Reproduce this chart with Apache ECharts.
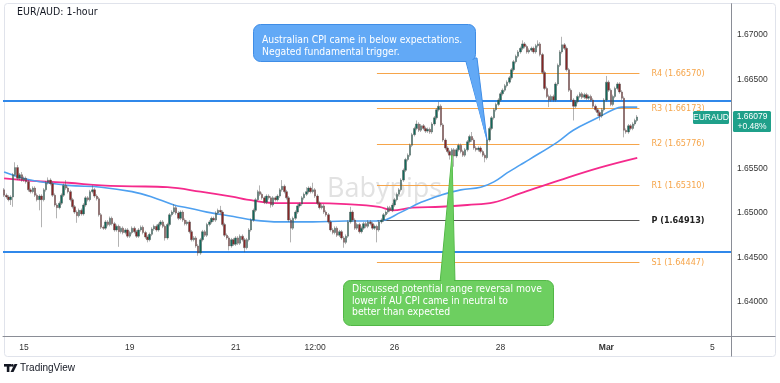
<!DOCTYPE html>
<html><head><meta charset="utf-8">
<script src="https://cdn.jsdelivr.net/npm/echarts/dist/echarts.min.js"></script>
<style>html,body{margin:0;padding:0;background:#fff}#c{width:780px;height:383px}</style>
</head><body><div id="c"></div>
<script>
// ---------- DATA ----------
const tradingDays = ['Feb 14','Feb 15','Feb 16','Feb 19','Feb 20','Feb 21','Feb 22','Feb 23','Feb 26','Feb 27','Feb 28','Feb 29','Mar 1','Mar 4','Mar 5'];
const firstHour = 15;        // first bar: Feb 14 15:00
const totalSlots = 330;      // visible hourly slots (incl. empty right margin)

const xTickLabels = {
  'Feb 15 00:00':'15','Feb 19 00:00':'19','Feb 21 00:00':'21','Feb 22 12:00':'12:00',
  'Feb 26 00:00':'26','Feb 28 00:00':'28','Mar 1 00:00':'Mar','Mar 5 00:00':'5'
};
const yTickValues = [1.64, 1.645, 1.65, 1.655, 1.66, 1.665, 1.67];

// [open, close, low, high]
const ohlc = [
[1.6526,1.6520,1.6518,1.6528],[1.6520,1.6518,1.6516,1.6522],[1.6518,1.6515,1.6513,1.6520],[1.6515,1.6518,1.6509,1.6520],
[1.6518,1.6543,1.6507,1.6545],[1.6543,1.6551,1.6541,1.6557],[1.6551,1.6539,1.6537,1.6554],[1.6539,1.6543,1.6537,1.6545],
[1.6543,1.6537,1.6535,1.6546],[1.6537,1.6539,1.6535,1.6541],[1.6539,1.6535,1.6533,1.6541],[1.6535,1.6526,1.6524,1.6537],
[1.6526,1.6524,1.6522,1.6528],[1.6524,1.6528,1.6522,1.6530],[1.6528,1.6520,1.6518,1.6530],[1.6520,1.6515,1.6513,1.6522],
[1.6515,1.6519,1.6503,1.6521],[1.6519,1.6515,1.6484,1.6521],[1.6515,1.6526,1.6513,1.6528],[1.6526,1.6534,1.6524,1.6536],
[1.6534,1.6537,1.6532,1.6540],[1.6537,1.6533,1.6531,1.6539],[1.6533,1.6520,1.6518,1.6535],[1.6520,1.6509,1.6507,1.6522],
[1.6509,1.6506,1.6494,1.6511],[1.6506,1.6511,1.6504,1.6513],[1.6511,1.6520,1.6509,1.6522],[1.6520,1.6531,1.6518,1.6533],
[1.6531,1.6528,1.6526,1.6537],[1.6528,1.6524,1.6522,1.6530],[1.6524,1.6515,1.6513,1.6526],[1.6515,1.6507,1.6505,1.6517],
[1.6507,1.6501,1.6499,1.6509],[1.6501,1.6497,1.6489,1.6503],[1.6497,1.6503,1.6495,1.6505],[1.6503,1.6499,1.6497,1.6505],
[1.6499,1.6509,1.6497,1.6511],[1.6509,1.6517,1.6507,1.6519],[1.6517,1.6515,1.6513,1.6519],[1.6515,1.6524,1.6513,1.6526],
[1.6524,1.6526,1.6522,1.6531],[1.6526,1.6519,1.6517,1.6528],[1.6519,1.6516,1.6514,1.6521],[1.6516,1.6498,1.6496,1.6518],
[1.6498,1.6484,1.6482,1.6500],[1.6484,1.6483,1.6481,1.6486],[1.6483,1.6490,1.6481,1.6492],[1.6490,1.6487,1.6485,1.6492],
[1.6487,1.6494,1.6485,1.6496],[1.6494,1.6488,1.6486,1.6496],[1.6488,1.6481,1.6479,1.6490],[1.6481,1.6485,1.6479,1.6487],
[1.6485,1.6479,1.6462,1.6487],[1.6479,1.6483,1.6477,1.6485],[1.6483,1.6478,1.6476,1.6485],[1.6478,1.6481,1.6476,1.6483],
[1.6481,1.6474,1.6472,1.6483],[1.6474,1.6478,1.6472,1.6480],[1.6478,1.6483,1.6476,1.6485],[1.6483,1.6479,1.6477,1.6485],
[1.6479,1.6474,1.6472,1.6481],[1.6474,1.6481,1.6472,1.6483],[1.6481,1.6484,1.6479,1.6486],[1.6484,1.6478,1.6476,1.6486],
[1.6478,1.6473,1.6471,1.6480],[1.6473,1.6470,1.6467,1.6475],[1.6470,1.6476,1.6468,1.6478],[1.6476,1.6482,1.6474,1.6484],
[1.6482,1.6485,1.6480,1.6487],[1.6485,1.6481,1.6479,1.6487],[1.6481,1.6487,1.6479,1.6489],[1.6487,1.6490,1.6485,1.6492],
[1.6490,1.6485,1.6483,1.6492],[1.6485,1.6472,1.6469,1.6487],[1.6472,1.6487,1.6470,1.6489],[1.6487,1.6498,1.6485,1.6500],
[1.6498,1.6501,1.6496,1.6503],[1.6501,1.6506,1.6499,1.6510],[1.6506,1.6500,1.6498,1.6508],[1.6500,1.6494,1.6492,1.6502],
[1.6494,1.6501,1.6492,1.6503],[1.6501,1.6492,1.6490,1.6503],[1.6492,1.6488,1.6486,1.6494],[1.6488,1.6490,1.6486,1.6492],
[1.6490,1.6479,1.6477,1.6492],[1.6479,1.6470,1.6468,1.6481],[1.6470,1.6472,1.6468,1.6474],[1.6472,1.6463,1.6461,1.6474],
[1.6463,1.6455,1.6452,1.6465],[1.6455,1.6470,1.6453,1.6472],[1.6470,1.6479,1.6468,1.6481],[1.6479,1.6475,1.6473,1.6481],
[1.6475,1.6487,1.6473,1.6489],[1.6487,1.6490,1.6485,1.6492],[1.6490,1.6494,1.6488,1.6496],[1.6494,1.6492,1.6490,1.6496],
[1.6492,1.6500,1.6490,1.6502],[1.6500,1.6503,1.6498,1.6505],[1.6503,1.6501,1.6499,1.6508],[1.6501,1.6487,1.6485,1.6503],
[1.6487,1.6475,1.6473,1.6489],[1.6475,1.6472,1.6470,1.6477],[1.6472,1.6463,1.6458,1.6474],[1.6463,1.6470,1.6461,1.6472],
[1.6470,1.6465,1.6463,1.6472],[1.6465,1.6472,1.6463,1.6474],[1.6472,1.6466,1.6464,1.6474],[1.6466,1.6474,1.6464,1.6476],
[1.6474,1.6470,1.6468,1.6476],[1.6470,1.6461,1.6456,1.6472],[1.6461,1.6470,1.6459,1.6472],[1.6470,1.6481,1.6468,1.6483],
[1.6481,1.6492,1.6479,1.6494],[1.6492,1.6503,1.6490,1.6505],[1.6503,1.6515,1.6501,1.6517],[1.6515,1.6524,1.6513,1.6526],
[1.6524,1.6521,1.6519,1.6531],[1.6521,1.6517,1.6515,1.6523],[1.6517,1.6512,1.6510,1.6519],[1.6512,1.6519,1.6510,1.6521],
[1.6519,1.6517,1.6515,1.6521],[1.6517,1.6509,1.6506,1.6519],[1.6509,1.6517,1.6507,1.6519],[1.6517,1.6515,1.6513,1.6519],
[1.6515,1.6519,1.6513,1.6521],[1.6519,1.6526,1.6517,1.6528],[1.6526,1.6530,1.6524,1.6537],[1.6530,1.6524,1.6522,1.6532],
[1.6524,1.6517,1.6515,1.6526],[1.6517,1.6492,1.6490,1.6519],[1.6492,1.6483,1.6467,1.6494],[1.6483,1.6494,1.6481,1.6496],
[1.6494,1.6501,1.6492,1.6503],[1.6501,1.6508,1.6499,1.6510],[1.6508,1.6510,1.6506,1.6512],[1.6510,1.6517,1.6508,1.6519],
[1.6517,1.6521,1.6515,1.6523],[1.6521,1.6524,1.6519,1.6529],[1.6524,1.6528,1.6522,1.6530],[1.6528,1.6524,1.6522,1.6530],
[1.6524,1.6526,1.6522,1.6534],[1.6526,1.6519,1.6517,1.6528],[1.6519,1.6511,1.6509,1.6521],[1.6511,1.6506,1.6504,1.6513],
[1.6506,1.6508,1.6504,1.6510],[1.6508,1.6501,1.6499,1.6510],[1.6501,1.6498,1.6496,1.6503],[1.6498,1.6490,1.6488,1.6500],
[1.6490,1.6481,1.6479,1.6492],[1.6481,1.6478,1.6476,1.6483],[1.6478,1.6483,1.6476,1.6485],[1.6483,1.6475,1.6473,1.6485],
[1.6475,1.6479,1.6473,1.6481],[1.6479,1.6472,1.6470,1.6481],[1.6472,1.6467,1.6461,1.6474],[1.6467,1.6474,1.6465,1.6476],
[1.6474,1.6490,1.6472,1.6492],[1.6490,1.6501,1.6488,1.6507],[1.6501,1.6492,1.6490,1.6503],[1.6492,1.6483,1.6481,1.6494],
[1.6483,1.6487,1.6481,1.6489],[1.6487,1.6479,1.6477,1.6489],[1.6479,1.6483,1.6477,1.6485],[1.6483,1.6488,1.6481,1.6490],
[1.6488,1.6485,1.6483,1.6490],[1.6485,1.6490,1.6483,1.6492],[1.6490,1.6488,1.6486,1.6492],[1.6488,1.6483,1.6481,1.6490],
[1.6483,1.6485,1.6481,1.6487],[1.6485,1.6481,1.6467,1.6487],[1.6481,1.6490,1.6479,1.6492],[1.6490,1.6492,1.6488,1.6494],
[1.6492,1.6498,1.6490,1.6500],[1.6498,1.6501,1.6496,1.6503],[1.6501,1.6506,1.6499,1.6508],[1.6506,1.6503,1.6501,1.6508],
[1.6503,1.6509,1.6501,1.6511],[1.6509,1.6515,1.6507,1.6517],[1.6515,1.6521,1.6513,1.6523],[1.6521,1.6526,1.6519,1.6528],
[1.6526,1.6537,1.6524,1.6539],[1.6537,1.6548,1.6535,1.6550],[1.6548,1.6560,1.6546,1.6562],[1.6560,1.6565,1.6558,1.6567],
[1.6565,1.6576,1.6563,1.6578],[1.6576,1.6588,1.6574,1.6590],[1.6588,1.6595,1.6586,1.6597],[1.6595,1.6600,1.6593,1.6604],
[1.6600,1.6593,1.6591,1.6602],[1.6593,1.6598,1.6591,1.6600],[1.6598,1.6595,1.6593,1.6600],[1.6595,1.6592,1.6590,1.6597],
[1.6592,1.6594,1.6590,1.6596],[1.6594,1.6591,1.6589,1.6596],[1.6591,1.6600,1.6589,1.6602],[1.6600,1.6607,1.6598,1.6609],
[1.6607,1.6616,1.6605,1.6618],[1.6616,1.6620,1.6614,1.6625],[1.6620,1.6599,1.6597,1.6622],[1.6599,1.6582,1.6580,1.6601],
[1.6582,1.6573,1.6571,1.6584],[1.6573,1.6569,1.6567,1.6575],[1.6569,1.6565,1.6560,1.6571],[1.6565,1.6571,1.6563,1.6573],
[1.6571,1.6564,1.6552,1.6573],[1.6564,1.6571,1.6562,1.6573],[1.6571,1.6576,1.6569,1.6578],[1.6576,1.6569,1.6567,1.6578],
[1.6569,1.6565,1.6563,1.6571],[1.6565,1.6571,1.6563,1.6573],[1.6571,1.6580,1.6569,1.6582],[1.6580,1.6586,1.6578,1.6588],
[1.6586,1.6582,1.6580,1.6591],[1.6582,1.6573,1.6571,1.6584],[1.6573,1.6571,1.6569,1.6575],[1.6571,1.6573,1.6569,1.6575],
[1.6573,1.6569,1.6567,1.6575],[1.6569,1.6565,1.6563,1.6571],[1.6565,1.6562,1.6557,1.6567],[1.6562,1.6582,1.6560,1.6584],
[1.6582,1.6595,1.6580,1.6597],[1.6595,1.6607,1.6593,1.6609],[1.6607,1.6616,1.6605,1.6618],[1.6616,1.6622,1.6614,1.6624],
[1.6622,1.6627,1.6620,1.6629],[1.6627,1.6634,1.6625,1.6636],[1.6634,1.6638,1.6632,1.6640],[1.6638,1.6643,1.6636,1.6645],
[1.6643,1.6647,1.6641,1.6649],[1.6647,1.6652,1.6645,1.6654],[1.6652,1.6661,1.6650,1.6663],[1.6661,1.6670,1.6659,1.6672],
[1.6670,1.6676,1.6668,1.6678],[1.6676,1.6681,1.6674,1.6683],[1.6681,1.6685,1.6679,1.6687],[1.6685,1.6690,1.6683,1.6694],
[1.6690,1.6687,1.6685,1.6692],[1.6687,1.6681,1.6679,1.6689],[1.6681,1.6683,1.6679,1.6685],[1.6683,1.6685,1.6681,1.6687],
[1.6685,1.6681,1.6679,1.6687],[1.6681,1.6688,1.6679,1.6690],[1.6688,1.6690,1.6686,1.6694],[1.6690,1.6678,1.6676,1.6692],
[1.6678,1.6658,1.6656,1.6680],[1.6658,1.6640,1.6638,1.6660],[1.6640,1.6631,1.6629,1.6642],[1.6631,1.6627,1.6619,1.6633],
[1.6627,1.6631,1.6625,1.6633],[1.6631,1.6627,1.6625,1.6633],[1.6627,1.6645,1.6625,1.6647],[1.6645,1.6666,1.6643,1.6668],
[1.6666,1.6681,1.6664,1.6683],[1.6681,1.6689,1.6679,1.6698],[1.6689,1.6685,1.6683,1.6691],[1.6685,1.6661,1.6659,1.6687],
[1.6661,1.6638,1.6636,1.6663],[1.6638,1.6627,1.6625,1.6640],[1.6627,1.6620,1.6604,1.6629],[1.6620,1.6625,1.6618,1.6627],
[1.6625,1.6631,1.6623,1.6633],[1.6631,1.6634,1.6629,1.6636],[1.6634,1.6630,1.6628,1.6636],[1.6630,1.6633,1.6628,1.6635],
[1.6633,1.6629,1.6627,1.6635],[1.6629,1.6631,1.6627,1.6633],[1.6631,1.6627,1.6625,1.6633],[1.6627,1.6620,1.6618,1.6629],
[1.6620,1.6616,1.6614,1.6622],[1.6616,1.6613,1.6609,1.6618],[1.6613,1.6609,1.6604,1.6615],[1.6609,1.6616,1.6607,1.6618],
[1.6616,1.6627,1.6614,1.6629],[1.6627,1.6647,1.6625,1.6654],[1.6647,1.6638,1.6636,1.6649],[1.6638,1.6622,1.6620,1.6640],
[1.6622,1.6631,1.6620,1.6633],[1.6631,1.6640,1.6629,1.6642],[1.6640,1.6645,1.6638,1.6647],[1.6645,1.6636,1.6634,1.6647],
[1.6636,1.6629,1.6627,1.6638],[1.6629,1.6593,1.6585,1.6631],[1.6593,1.6591,1.6589,1.6595],[1.6591,1.6598,1.6589,1.6600],
[1.6598,1.6595,1.6593,1.6600],[1.6595,1.6600,1.6593,1.6602],[1.6600,1.6604,1.6598,1.6606],[1.6604,1.66079,1.6602,1.6610]
];

// moving averages: [time, value]
const blueMA = [
['Feb 14 15:00',1.6546],['Feb 15 03:00',1.6537],['Feb 15 20:00',1.6531],['Feb 16 11:00',1.6529],
['Feb 19 01:00',1.6524],['Feb 19 10:00',1.6518],['Feb 19 20:00',1.6509],['Feb 20 02:00',1.6506],
['Feb 20 11:00',1.6501],['Feb 20 23:00',1.6496],['Feb 21 08:00',1.6492],['Feb 21 20:00',1.6490],
['Feb 22 11:00',1.6490],['Feb 23 02:00',1.6491],['Feb 23 17:00',1.6491],['Feb 26 03:00',1.6501],
['Feb 26 12:00',1.6512],['Feb 26 21:00',1.6520],['Feb 27 06:00',1.6526],['Feb 27 15:00',1.6529],
['Feb 27 21:00',1.6535],['Feb 28 03:00',1.6545],['Feb 28 09:00',1.6554],['Feb 28 13:00',1.6560],
['Feb 29 02:00',1.6580],['Feb 29 09:00',1.6593],['Feb 29 20:00',1.6607],['Mar 1 03:00',1.6616],
['Mar 1 07:00',1.6619],['Mar 1 14:00',1.6619]
];
const pinkMA = [
['Feb 14 15:00',1.6539],['Feb 15 04:00',1.6536],['Feb 15 20:00',1.6534],['Feb 16 11:00',1.6531],
['Feb 19 01:00',1.6530],['Feb 19 17:00',1.6529],['Feb 20 08:00',1.6524],['Feb 20 23:00',1.6518],
['Feb 21 05:00',1.6515],['Feb 21 20:00',1.6511],['Feb 22 11:00',1.6511],['Feb 23 02:00',1.6510],
['Feb 23 17:00',1.6507],['Feb 23 23:00',1.6503],['Feb 26 08:00',1.6506],['Feb 26 21:00',1.6507],
['Feb 27 09:00',1.6509],['Feb 27 21:00',1.6512],['Feb 28 09:00',1.6522],['Feb 29 03:00',1.6537],
['Feb 29 21:00',1.6551],['Mar 1 14:00',1.6562]
];

const pivotNames  = ['R4','R3','R2','R1','P','S1'];
const pivotValues = [1.66570, 1.66173, 1.65776, 1.65310, 1.64913, 1.64447];
const pivotStart = 'Feb 23 16:00', pivotEnd = 'Mar 1 15:00';
const rangeLevels = [1.66258, 1.64562];
const symbolName = 'EURAUD';
const changeText = '+0.48%';

// ---------- BUILD ----------
const categories = [];
for (const d of tradingDays) {
  for (let h = 0; h < 24; h++) {
    if (d === 'Feb 14' && h < firstHour) continue;
    if (categories.length < totalSlots) categories.push(d + ' ' + String(h).padStart(2,'0') + ':00');
  }
}
const lastClose = ohlc[ohlc.length - 1][1];
const FONT = '"DejaVu Sans Condensed","DejaVu Sans",sans-serif';
const AXFONT = '"Liberation Sans",Arial,sans-serif';
const ORANGE = '#f6a54a';

const chart = echarts.init(document.getElementById('c'), null, {renderer: 'canvas'});

const pivotLines = pivotNames.map((n, k) => {
  const isP = n === 'P';
  const col = isP ? '#555' : ORANGE;
  return [
    {coord: [pivotStart, pivotValues[k]],
     lineStyle: {color: col, width: 1, type: 'solid'},
     label: {show: true, position: 'end', distance: 12, formatter: n + ' (' + pivotValues[k].toFixed(5) + ')',
             color: isP ? '#222' : ORANGE, fontSize: 9, fontFamily: FONT, fontWeight: isP ? 'bold' : 'normal'}},
    {coord: [pivotEnd, pivotValues[k]]}
  ];
});
const levelLines = rangeLevels.map(v => ({yAxis: v, lineStyle: {color: '#3088ea', width: 2, type: 'solid'}, label: {show: false}}));

chart.setOption({
  animation: false,
  backgroundColor: '#fff',
  grid: {left: 3, right: 49, top: 4, bottom: 47, containLabel: false},
  xAxis: {
    type: 'category', data: categories, boundaryGap: true,
    axisLine: {show: true, lineStyle: {color: '#8a8d96', width: 1}},
    axisTick: {show: false},
    splitLine: {show: false},
    axisLabel: {
      interval: (idx, val) => Object.prototype.hasOwnProperty.call(xTickLabels, val),
      formatter: val => val === 'Mar 1 00:00' ? '{b|Mar}' : (xTickLabels[val] || ''),
      color: '#333', fontSize: 8.5, fontFamily: AXFONT, margin: 7,
      rich: {b: {fontWeight: 'bold', color: '#333', fontSize: 8.5, fontFamily: AXFONT}}
    }
  },
  yAxis: {
    type: 'value', position: 'right', scale: true,
    min: 1.63618, max: 1.673483,
    axisLine: {show: true, lineStyle: {color: '#8a8d96', width: 1}},
    axisTick: {show: false},
    splitLine: {show: false},
    axisLabel: {customValues: yTickValues, formatter: v => v.toFixed(5), color: '#333', fontSize: 8.5, fontFamily: AXFONT, margin: 6}
  },
  series: [
    {
      type: 'line', data: pinkMA, smooth: 0.4, symbol: 'none', z: 3,
      lineStyle: {color: '#f52a8c', width: 1.8}
    },
    {
      type: 'line', data: blueMA, smooth: 0.4, symbol: 'none', z: 3,
      lineStyle: {color: '#4ea0f0', width: 1.6}
    },
    {
      type: 'candlestick', data: ohlc, barWidth: 2, z: 4,
      itemStyle: {color: '#12695a', color0: '#872626', borderColor: '#555', borderColor0: '#555', borderWidth: 0.45},
      markLine: {silent: true, symbol: 'none', animation: false, precision: 5, z: 2, data: pivotLines.concat(levelLines)}
    }
  ]
});

const yTag = chart.convertToPixel({yAxisIndex: 0}, lastClose);
const TEAL = '#1fa08a';

const graphics = [
  // frame & axis extensions
  {type: 'rect', z: 0, shape: {x: 4.5, y: 3.5, width: 771, height: 353, r: 3}, style: {fill: 'none', stroke: '#e0e3eb', lineWidth: 1}},
  {type: 'line', z: 10, shape: {x1: 731.5, y1: 3.5, x2: 731.5, y2: 356.5}, style: {stroke: '#8a8d96', lineWidth: 1}},
  {type: 'line', z: 10, shape: {x1: 731.5, y1: 336.5, x2: 775.5, y2: 336.5}, style: {stroke: '#8a8d96', lineWidth: 1}},
  // watermark
  {type: 'text', z: 0, style: {text: 'Babypips', x: 327, y: 176, fill: '#e2e2e2', font: '27px "Open Sans","Noto Sans",sans-serif', textVerticalAlign: 'top'}},
  // title
  {type: 'text', z: 20, style: {text: 'EUR/AUD: 1-hour', x: 17, y: 7, fill: '#131722', font: '10.5px ' + FONT, textVerticalAlign: 'top'}},
  // blue callout
  {type: 'polygon', z: 30, shape: {points: [[465, 58], [477, 58], [487, 140]]}, style: {fill: '#62a9f6', stroke: '#3f8de6', lineWidth: 1}},
  {type: 'rect', z: 31, shape: {x: 253.5, y: 24.5, width: 222, height: 37, r: 7}, style: {fill: '#62a9f6', stroke: '#3f8de6', lineWidth: 1}},
  {type: 'polygon', z: 32, shape: {points: [[466, 60], [476, 60], [486, 138]]}, style: {fill: '#62a9f6'}},
  {type: 'text', z: 33, style: {text: 'Australian CPI came in below expectations.\nNegated fundamental trigger.', x: 262, y: 34.5, lineHeight: 12, fill: '#fff', font: '10.3px ' + FONT, textVerticalAlign: 'top'}},
  // green callout
  {type: 'polygon', z: 30, shape: {points: [[440, 283], [455, 283], [452, 155]]}, style: {fill: '#6dcf60', stroke: '#52b746', lineWidth: 1}},
  {type: 'rect', z: 31, shape: {x: 343.5, y: 280.5, width: 210, height: 45, r: 7}, style: {fill: '#6dcf60', stroke: '#52b746', lineWidth: 1}},
  {type: 'polygon', z: 32, shape: {points: [[441, 282], [454, 282], [452, 157]]}, style: {fill: '#6dcf60'}},
  {type: 'text', z: 33, style: {text: 'Discussed potential range reversal move\nlower if AU CPI came in neutral to\nbetter than expected', x: 352, y: 283.5, lineHeight: 11.7, fill: '#fff', font: '10.3px ' + FONT, textVerticalAlign: 'top'}},
  // symbol tag
  {type: 'rect', z: 40, shape: {x: 693, y: yTag - 6, width: 36, height: 13, r: 1.5}, style: {fill: TEAL}},
  {type: 'text', z: 41, style: {text: symbolName, x: 711, y: yTag + 0.5, fill: '#fff', font: '8.5px ' + AXFONT, textAlign: 'center', textVerticalAlign: 'middle'}},
  // price tag
  {type: 'rect', z: 40, shape: {x: 733, y: yTag - 6, width: 38, height: 21, r: 1.5}, style: {fill: TEAL}},
  {type: 'text', z: 41, style: {text: lastClose.toFixed(5) + '\n' + changeText, x: 752, y: yTag - 5, lineHeight: 10, fill: '#fff', font: '8.5px ' + AXFONT, textAlign: 'center', textVerticalAlign: 'top'}},
  // TradingView logo
  {type: 'rect', z: 20, shape: {x: 4, y: 364, width: 7, height: 2.6}, style: {fill: '#131722'}},
  {type: 'rect', z: 20, shape: {x: 6.8, y: 364, width: 2.6, height: 8}, style: {fill: '#131722'}},
  {type: 'circle', z: 20, shape: {cx: 12.3, cy: 365.4, r: 1.4}, style: {fill: '#131722'}},
  {type: 'polygon', z: 20, shape: {points: [[14.5, 364], [17.5, 364], [13.5, 372], [10.5, 372]]}, style: {fill: '#131722'}},
  {type: 'text', z: 20, style: {text: 'TradingView', x: 20, y: 368, fill: '#131722', font: '10px ' + AXFONT, textVerticalAlign: 'middle'}}
];
chart.setOption({graphic: graphics});
</script>
</body></html>
